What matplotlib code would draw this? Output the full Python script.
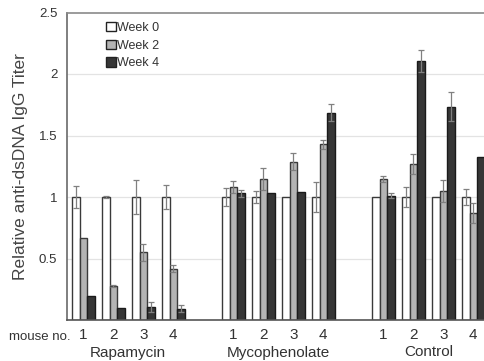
import numpy as np
import matplotlib
matplotlib.use("Agg")
import matplotlib.pyplot as plt
from matplotlib.patches import Patch
import matplotlib.transforms as mtransforms

plt.rcParams['font.family'] = ['Liberation Sans', 'DejaVu Sans']

groups = ["Rapamycin", "Mycophenolate", "Control"]
mice = ["1", "2", "3", "4"]
series = ["Week 0", "Week 2", "Week 4"]

week0 = [1.0, 1.0, 1.0, 1.0,   1.0, 1.0, 1.0, 1.0,   1.0, 1.0, 1.0, 1.0]
week0_err = [0.09, 0.01, 0.14, 0.10,   0.07, 0.05, 0.0, 0.12,   0.0, 0.08, 0.0, 0.065]
week2 = [0.67, 0.276, 0.55, 0.417,   1.084, 1.144, 1.287, 1.428,   1.144, 1.266, 1.049, 0.872]
week2_err = [0.0, 0.01, 0.07, 0.03,   0.05, 0.09, 0.07, 0.035,   0.025, 0.08, 0.09, 0.08]
week4 = [0.195, 0.098, 0.105, 0.092,   1.03, 1.03, 1.038, 1.685,   1.01, 2.108, 1.734, 1.328]
week4_err = [0.0, 0.0, 0.04, 0.03,   0.03, 0.0, 0.0, 0.07,   0.02, 0.09, 0.12, 0.0]

values = [week0, week2, week4]
errors = [week0_err, week2_err, week4_err]
face_colors = ["#ffffff", "#b4b4b4", "#363636"]
edge_colors = ["#3a3a3a", "#3a3a3a", "#1a1a1a"]

fig = plt.figure(figsize=(4.84, 3.61), dpi=100)
ax = fig.add_axes([67/484, 1 - 320/361, (484 - 67)/484, (320 - 12.5)/361])

cluster_x = np.array([0, 1, 2, 3, 5, 6, 7, 8, 10, 11, 12, 13], dtype=float)
bw = 0.25

ax.set_axisbelow(True)
for y in [0.5, 1.0, 1.5, 2.0]:
    ax.axhline(y, color="#e3e3e3", lw=0.9, zorder=0)

for k in range(3):
    xs = cluster_x + k * bw
    ax.bar(xs, values[k], width=bw, align="edge", color=face_colors[k],
           edgecolor=edge_colors[k], linewidth=1.0, zorder=2)
    v = np.array(values[k]); e = np.array(errors[k])
    m = e > 0
    ax.errorbar(xs[m] + bw / 2, v[m], yerr=e[m], fmt="none", ecolor="#808080",
                elinewidth=0.9, capsize=2, capthick=0.9, zorder=3)

ax.set_xlim(-0.167, 13.733)
ax.set_ylim(0, 2.5)
ax.set_yticks([0.5, 1.0, 1.5, 2.0, 2.5])
ax.set_yticklabels(["0.5", "1", "1.5", "2", "2.5"], fontsize=9.5, color="#333333")
ax.tick_params(axis="y", length=0, pad=7)

ax.set_xticks(cluster_x + 1.5 * bw)
ax.set_xticklabels(mice * 3, fontsize=11, color="#333333")
ax.tick_params(axis="x", length=0, pad=5.5)

ax.spines["right"].set_visible(False)
ax.spines["top"].set_color("#8a8a8a")
ax.spines["top"].set_linewidth(1.2)
ax.spines["left"].set_color("#6a6a6a")
ax.spines["left"].set_linewidth(1.2)
ax.spines["bottom"].set_color("#555555")
ax.spines["bottom"].set_linewidth(1.2)

ax.set_ylabel("Relative anti-dsDNA IgG Titer", fontsize=12.5, color="#444444", labelpad=8)

fig.text(9/484, 1 - 337/361, "mouse no.", fontsize=9.5, color="#333333",
         ha="left", va="center")
gtrans = mtransforms.blended_transform_factory(ax.transData, fig.transFigure)
for gi, g in enumerate(groups):
    cx = cluster_x[gi * 4:(gi + 1) * 4].mean() + 1.5 * bw
    ax.text(cx, 1 - 352.5/361, g, transform=gtrans,
            fontsize=11, color="#333333", ha="center", va="center")

handles = [Patch(facecolor=face_colors[k], edgecolor="#222222", linewidth=1.0) for k in range(3)]
leg = ax.legend(handles, series, loc="upper left", bbox_to_anchor=(0.082, 0.985),
                frameon=False, fontsize=9, handlelength=0.75, handleheight=0.75,
                handletextpad=0.15, labelspacing=0.45, borderaxespad=0)
for t in leg.get_texts():
    t.set_color("#333333")

fig.savefig("out.png", dpi=100)
